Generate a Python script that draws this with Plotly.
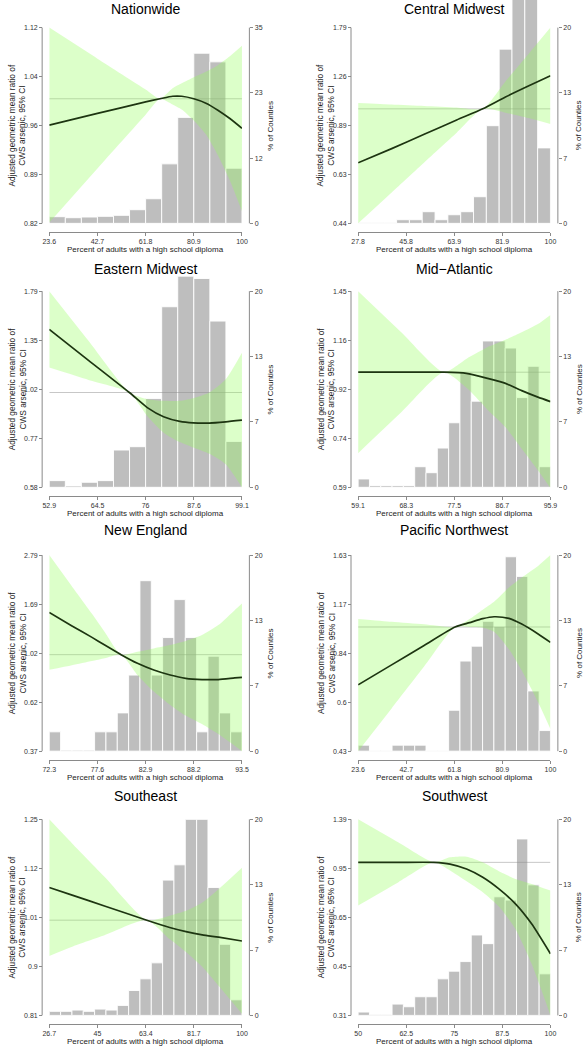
import math
import plotly.graph_objects as go

W, H = 588, 1050

# ---------------- data ----------------
nat_title = "Nationwide"
nat_xticks = [23.6, 42.7, 61.8, 80.9, 100]
nat_rticks = [0.82, 0.89, 0.96, 1.04, 1.12]
nat_cticks = [0, 12, 23, 35]
nat_counts = [1.19, 1.01, 1.13, 1.25, 1.43, 2.44, 4.40, 10.64, 18.95, 30.42, 28.88, 9.86]
nat_x = [23.6, 42.7, 61.8, 67.5, 72.5, 76.1, 80.9, 85.7, 90.45, 95.2, 100]
nat_fit = [0.959, 0.977, 0.995, 1.0, 1.004, 1.004, 1.0, 0.993, 0.982, 0.969, 0.954]
nat_upper = [1.12, 1.066, 1.015, 1.0, 1.017, 1.025, 1.035, 1.044, 1.055, 1.070, 1.088]
nat_lower = [0.821, 0.895, 0.975, 1.0, 0.991, 0.983, 0.966, 0.945, 0.914, 0.878, 0.836]

cmw_title = "Central Midwest"
cmw_xticks = [27.8, 45.8, 63.9, 81.9, 100]
cmw_rticks = [0.44, 0.63, 0.89, 1.26, 1.79]
cmw_cticks = [0, 7, 13, 20]
cmw_counts = [0.07, 0.07, 0.07, 0.37, 0.37, 1.19, 0.37, 0.88, 1.19, 2.72, 9.98, 17.8, 28.5, 28.7, 7.71]
cmw_x = [27.8, 40.4, 52.6, 64.8, 74.6, 83.1, 91.7, 100]
cmw_fit = [0.679, 0.752, 0.833, 0.923, 1.0, 1.088, 1.177, 1.267]
cmw_upper = [1.042, 1.031, 1.020, 1.009, 1.0, 1.217, 1.479, 1.79]
cmw_lower = [0.44, 0.549, 0.681, 0.843, 1.0, 0.973, 0.936, 0.897]

emw_title = "Eastern Midwest"
emw_xticks = [52.9, 64.5, 76, 87.6, 99.1]
emw_rticks = [0.58, 0.77, 1.02, 1.35, 1.79]
emw_cticks = [0, 7, 13, 20]
emw_counts = [0.68, 0.14, 0.51, 0.68, 3.80, 4.14, 9.05, 18.41, 21.53, 21.29, 16.95, 4.68]
emw_x = [52.9, 62.3, 72.1, 76.4, 80.3, 84.2, 87.4, 91.3, 95.2, 99.1]
emw_fit = [1.437, 1.203, 1.0, 0.917, 0.870, 0.847, 0.840, 0.839, 0.845, 0.853]
emw_upper = [1.79, 1.346, 1.0, 0.962, 0.953, 0.953, 0.968, 1.0, 1.079, 1.257]
emw_lower = [1.154, 1.075, 1.0, 0.874, 0.794, 0.752, 0.729, 0.703, 0.662, 0.58]

mat_title = "Mid\u2212Atlantic"
mat_xticks = [59.1, 68.3, 77.5, 86.7, 95.9]
mat_rticks = [0.59, 0.74, 0.92, 1.16, 1.45]
mat_cticks = [0, 7, 13, 20]
mat_counts = [0.85, 0.17, 0.17, 0.17, 0.17, 2.10, 1.49, 4.0, 6.58, 11.73, 8.78, 14.92, 14.92, 14.2, 9.15, 12.34, 2.10]
mat_x = [59.1, 67.4, 75.5, 79.8, 84.2, 87.3, 90.4, 93.5, 95.9]
mat_fit = [1.0, 1.0, 1.0, 0.995, 0.970, 0.950, 0.919, 0.892, 0.874]
mat_upper = [1.45, 1.20, 1.0, 1.063, 1.126, 1.161, 1.201, 1.247, 1.30]
mat_lower = [0.69, 0.833, 1.0, 0.932, 0.835, 0.777, 0.704, 0.638, 0.588]

neg_title = "New England"
neg_xticks = [72.3, 77.6, 82.9, 88.2, 93.5]
neg_rticks = [0.37, 0.62, 1.02, 1.69, 2.79]
neg_cticks = [0, 7, 13, 20]
neg_counts = [1.97, 0.1, 0.1, 0.1, 1.97, 1.97, 3.9, 7.76, 17.39, 7.76, 11.59, 15.46, 11.59, 1.97, 9.69, 3.9, 1.97]
neg_x = [72.3, 74.8, 77.0, 78.4, 80.2, 82.0, 83.8, 85.6, 87.3, 89.1, 90.9, 92.7, 93.5]
neg_fit = [1.545, 1.345, 1.195, 1.104, 1.0, 0.915, 0.854, 0.811, 0.784, 0.774, 0.774, 0.787, 0.792]
neg_upper = [2.79, 2.019, 1.524, 1.264, 1.0, 1.031, 1.067, 1.104, 1.151, 1.224, 1.356, 1.582, 1.694]
neg_lower = [0.855, 0.896, 0.936, 0.964, 1.0, 0.812, 0.684, 0.596, 0.534, 0.489, 0.441, 0.391, 0.37]

pnw_title = "Pacific Northwest"
pnw_xticks = [23.6, 42.7, 61.8, 80.9, 100]
pnw_rticks = [0.43, 0.6, 0.84, 1.17, 1.63]
pnw_cticks = [0, 7, 13, 20]
pnw_counts = [0.61, 0.07, 0.07, 0.61, 0.61, 0.61, 0.07, 0.07, 4.17, 9.19, 10.71, 13.25, 12.71, 19.83, 17.83, 6.14, 2.10]
pnw_x = [23.6, 36.9, 49.8, 62.1, 67.9, 73.1, 77.6, 83.5, 88.6, 95.1, 100]
pnw_fit = [0.675, 0.773, 0.882, 1.0, 1.03, 1.058, 1.072, 1.06, 1.02, 0.954, 0.901]
pnw_upper = [1.056, 1.036, 1.018, 1.0, 1.056, 1.125, 1.187, 1.308, 1.40, 1.515, 1.63]
pnw_lower = [0.43, 0.575, 0.764, 1.0, 1.0, 0.995, 0.968, 0.86, 0.744, 0.60, 0.50]

se_title = "Southeast"
se_xticks = [26.7, 45, 63.4, 81.7, 100]
se_rticks = [0.81, 0.9, 1.01, 1.12, 1.25]
se_cticks = [0, 7, 13, 20]
se_counts = [0.41, 0.41, 0.54, 0.41, 0.64, 0.54, 1.02, 2.54, 3.73, 5.36, 13.8, 15.36, 20.0, 20.0, 13.05, 7.25, 1.59]
se_x = [26.7, 35.4, 47.7, 63.8, 72.5, 78.7, 84.9, 91.1, 100]
se_fit = [1.075, 1.057, 1.032, 1.0, 0.984, 0.975, 0.968, 0.963, 0.955]
se_upper = [1.25, 1.185, 1.101, 1.0, 1.01, 1.021, 1.04, 1.071, 1.123]
se_lower = [0.924, 0.943, 0.967, 1.0, 0.959, 0.932, 0.902, 0.865, 0.813]

sw_title = "Southwest"
sw_xticks = [50, 62.5, 75, 87.5, 100]
sw_rticks = [0.31, 0.45, 0.65, 0.95, 1.39]
sw_cticks = [0, 7, 13, 20]
sw_counts = [0.34, 0.1, 0.1, 1.15, 0.88, 1.9, 1.9, 3.73, 4.51, 5.49, 8.2, 7.32, 12.1, 11.76, 18.0, 13.32, 4.24]
sw_x = [50, 60.4, 69.7, 73.9, 78.2, 82.4, 86.6, 90.9, 95.1, 100]
sw_fit = [1.0, 1.0, 1.0, 0.987, 0.950, 0.892, 0.816, 0.728, 0.625, 0.497]
sw_upper = [1.39, 1.166, 1.0, 1.039, 1.044, 1.0, 0.934, 0.881, 0.848, 0.806]
sw_lower = [0.719, 0.858, 1.0, 0.939, 0.865, 0.796, 0.713, 0.601, 0.460, 0.31]

x_title = "Percent of adults with a high school diploma"
y_title = "Adjusted geometric mean ratio of<br>CWS arsenic, 95% CI"
y2_title = "% of Counties"

panels = [
    (nat_title, nat_xticks, nat_rticks, nat_cticks, nat_counts, nat_x, nat_fit, nat_upper, nat_lower),
    (cmw_title, cmw_xticks, cmw_rticks, cmw_cticks, cmw_counts, cmw_x, cmw_fit, cmw_upper, cmw_lower),
    (emw_title, emw_xticks, emw_rticks, emw_cticks, emw_counts, emw_x, emw_fit, emw_upper, emw_lower),
    (mat_title, mat_xticks, mat_rticks, mat_cticks, mat_counts, mat_x, mat_fit, mat_upper, mat_lower),
    (neg_title, neg_xticks, neg_rticks, neg_cticks, neg_counts, neg_x, neg_fit, neg_upper, neg_lower),
    (pnw_title, pnw_xticks, pnw_rticks, pnw_cticks, pnw_counts, pnw_x, pnw_fit, pnw_upper, pnw_lower),
    (se_title, se_xticks, se_rticks, se_cticks, se_counts, se_x, se_fit, se_upper, se_lower),
    (sw_title, sw_xticks, sw_rticks, sw_cticks, sw_counts, sw_x, sw_fit, sw_upper, sw_lower),
]

# ---------------- styling / geometry ----------------
FONT = "Liberation Sans, Arial, Helvetica, sans-serif"
AXC = "#8a8a8a"
TICKFONT = dict(family=FONT, size=7, color="#333333")
BAR = "#bebebe"
BAND = "rgba(150,255,90,0.33)"
FITC = "#1d3511"
REFC = "rgba(140,140,140,0.55)"

COLS = [(43.3, 240.7), (359.7, 556.7)]
ROWS = [(27.7, 224.0), (292.0, 488.7), (556.7, 753.3), (821.7, 1018.3)]
ROW_TOP = [0.0, 262.0, 526.0, 790.0]
TITLE_Y = [9.0, 269.5, 531.5, 798.5]


def px(x):
    return x / W


def py(y):
    return 1 - y / H


fig = go.Figure()
layout = dict(
    width=W, height=H, margin=dict(l=0, r=0, t=0, b=0),
    paper_bgcolor="white", plot_bgcolor="rgba(0,0,0,0)",
    showlegend=False, font=dict(family=FONT, color="#222222"),
)
shapes = []
annotations = []

for i, (title, xticks, rticks, cticks, counts, xs, fit, upper, lower) in enumerate(panels):
    r, c = divmod(i, 2)
    L, R = COLS[c]
    T, B = ROWS[r]
    TOP = ROW_TOP[r]
    stretch = (B - TOP) / (B - T)

    xn = "xaxis" if i == 0 else f"xaxis{i + 1}"
    xref = "x" if i == 0 else f"x{i + 1}"
    cn_i = 2 * i + 1
    rn_i = 2 * i + 2
    cn = "yaxis" if cn_i == 1 else f"yaxis{cn_i}"
    cref = "y" if cn_i == 1 else f"y{cn_i}"
    rn = f"yaxis{rn_i}"
    rref = f"y{rn_i}"

    xmin, xmax = xticks[0], xticks[-1]
    lo, hi = rticks[0], rticks[-1]
    cmax = cticks[-1]

    layout[xn] = dict(
        domain=[px(L), px(R)], range=[xmin, xmax], anchor="free", position=py(B + 8.5),
        showline=True, linecolor=AXC, linewidth=1, ticks="outside", ticklen=3,
        tickcolor=AXC, tickwidth=1, tickvals=xticks, ticktext=[f"{v:g}" for v in xticks],
        tickfont=TICKFONT, showgrid=False, zeroline=False, fixedrange=True,
    )
    layout[cn] = dict(
        domain=[py(B), py(TOP)], range=[0, cmax * stretch], anchor="free",
        position=px(R + 7.6), side="right", showline=False, ticks="outside", ticklen=3,
        tickcolor=AXC, tickwidth=1, tickvals=[cmax * k / 3 for k in range(4)],
        ticktext=[str(v) for v in cticks], tickfont=TICKFONT, showgrid=False, zeroline=False,
        fixedrange=True,
    )
    l0, l1 = math.log10(lo), math.log10(hi)
    layout[rn] = dict(
        type="log", overlaying=cref, domain=[py(B), py(TOP)],
        range=[l0, l0 + (l1 - l0) * stretch], anchor="free", position=px(L - 7.3),
        side="left", showline=False, ticks="outside", ticklen=3, tickcolor=AXC, tickwidth=1,
        tickvals=[lo * (hi / lo) ** (k / 4) for k in range(5)],
        ticktext=[f"{v:g}" for v in rticks], tickfont=TICKFONT, showgrid=False, zeroline=False,
        fixedrange=True,
    )

    # axis lines spanning only the data range (R base-graphics style)
    shapes.append(dict(type="line", xref="paper", yref="paper", x0=px(L - 7.3), x1=px(L - 7.3),
                       y0=py(B), y1=py(T), line=dict(color=AXC, width=1)))
    shapes.append(dict(type="line", xref="paper", yref="paper", x0=px(R + 7.6), x1=px(R + 7.6),
                       y0=py(B), y1=py(T), line=dict(color=AXC, width=1)))

    # histogram
    n = len(counts)
    bw = (xmax - xmin) / n
    centers = [xmin + (j + 0.5) * bw for j in range(n)]
    fig.add_trace(go.Bar(x=centers, y=counts, width=[bw] * n, xaxis=xref, yaxis=cref,
                         marker=dict(color=BAR, line=dict(color="white", width=0.9)),
                         hoverinfo="skip"))

    # reference line at ratio 1
    fig.add_trace(go.Scatter(x=[xmin, xmax], y=[1, 1], mode="lines", xaxis=xref, yaxis=rref,
                             line=dict(color=REFC, width=0.9), hoverinfo="skip"))
    # confidence band
    fig.add_trace(go.Scatter(x=xs, y=lower, mode="lines", xaxis=xref, yaxis=rref,
                             line=dict(width=0, color=BAND, shape="spline", smoothing=0.6),
                             hoverinfo="skip"))
    fig.add_trace(go.Scatter(x=xs, y=upper, mode="lines", xaxis=xref, yaxis=rref,
                             fill="tonexty", fillcolor=BAND,
                             line=dict(width=0, color=BAND, shape="spline", smoothing=0.6),
                             hoverinfo="skip"))
    # fitted curve
    fig.add_trace(go.Scatter(x=xs, y=fit, mode="lines", xaxis=xref, yaxis=rref,
                             line=dict(width=1.7, color=FITC, shape="spline", smoothing=0.6),
                             hoverinfo="skip"))

    # texts
    annotations.append(dict(text=title, xref="paper", yref="paper", x=px((L + R) / 2),
                            y=py(TITLE_Y[r]), xanchor="center", yanchor="middle", showarrow=False,
                            font=dict(family=FONT, size=14, color="#000000")))
    annotations.append(dict(text=x_title, xref="paper", yref="paper", x=px((L + R) / 2),
                            y=py(B + 26), xanchor="center", yanchor="middle", showarrow=False,
                            font=dict(family=FONT, size=8, color="#222222")))
    annotations.append(dict(text=y_title, xref="paper", yref="paper", x=px(L - 33),
                            y=py((T + B) / 2), xanchor="center", yanchor="middle", showarrow=False,
                            textangle=-90, font=dict(family=FONT, size=8.3, color="#222222")))
    annotations.append(dict(text=y2_title, xref="paper", yref="paper", x=px(R + 29),
                            y=py((T + B) / 2), xanchor="center", yanchor="middle", showarrow=False,
                            textangle=-90, font=dict(family=FONT, size=8, color="#222222")))

layout["shapes"] = shapes
layout["annotations"] = annotations
fig.update_layout(**layout)
fig.write_html(
    "out.html",
    config={"displayModeBar": False, "staticPlot": True},
    post_script="document.body.style.margin='0';document.body.style.padding='0';"
                "document.documentElement.style.overflow='hidden';",
)
